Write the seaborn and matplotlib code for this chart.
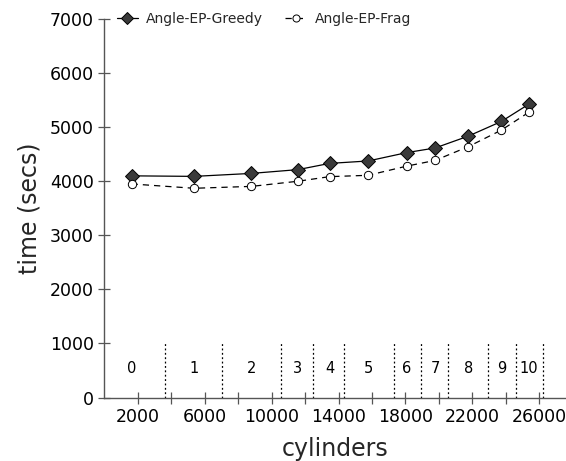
import matplotlib
matplotlib.use("Agg")
import matplotlib.pyplot as plt
import seaborn as sns
import pandas as pd

# data
cylinders = [1620, 5360, 8790, 11570, 13460, 15770, 18080, 19770, 21760, 23730, 25400]
greedy = [4100, 4090, 4145, 4215, 4330, 4375, 4530, 4615, 4835, 5105, 5430]
frag = [3950, 3870, 3905, 4000, 4085, 4110, 4280, 4385, 4640, 4945, 5280]
zone_labels = ["0", "1", "2", "3", "4", "5", "6", "7", "8", "9", "10"]
zone_bounds = [3610, 7000, 10540, 12450, 14320, 17300, 18940, 20550, 22910, 24590, 26240]
xtick_vals = list(range(2000, 26001, 2000))
ytick_vals = list(range(0, 7001, 1000))

sns.set_theme(style="white")
plt.rcParams['font.family'] = ['DejaVu Sans']

fig = plt.figure(figsize=(5.66, 4.61), dpi=100)
ax = fig.add_axes([0.1846, 0.1377, 0.8154, 0.821])

df = pd.DataFrame({"cyl": cylinders, "Angle-EP-Greedy": greedy, "Angle-EP-Frag": frag})

sns.lineplot(data=df, x="cyl", y="Angle-EP-Greedy", ax=ax, color="black", lw=0.9,
             marker="D", markersize=7, markerfacecolor="#3a3a3a", markeredgecolor="black",
             markeredgewidth=0.7, label="Angle-EP-Greedy")
sns.lineplot(data=df, x="cyl", y="Angle-EP-Frag", ax=ax, color="black", lw=0.9,
             linestyle=(0, (5, 4)), marker="o", markersize=6, markerfacecolor="white",
             markeredgecolor="black", markeredgewidth=0.7, label="Angle-EP-Frag")

ax.vlines(zone_bounds, 0, 1000, colors="black", linestyles=(0, (1.5, 2)), lw=0.9)
for x, lab in zip(cylinders, zone_labels):
    ax.text(x, 540, lab, ha="center", va="center", fontsize=10.5, color="black")

ax.set_xlim(0, 27600)
ax.set_ylim(0, 7000)
ax.set_xticks(xtick_vals)
ax.set_xticklabels([str(v) if (v - 2000) % 4000 == 0 else "" for v in xtick_vals])
ax.set_yticks(ytick_vals)
ax.tick_params(axis="both", direction="inout", length=9, width=0.9, color="#555555",
               labelsize=12.5, labelcolor="black", pad=3, bottom=True, left=True)

for s in ["top", "right"]:
    ax.spines[s].set_visible(False)
for s in ["left", "bottom"]:
    ax.spines[s].set_color("#555555")
    ax.spines[s].set_linewidth(1.0)

ax.set_xlabel("cylinders", fontsize=17, labelpad=8)
ax.set_ylabel("time (secs)", fontsize=17, labelpad=6)

leg = ax.legend(loc="center left", bbox_to_anchor=(0.0, 1.0), ncol=2, frameon=False,
                fontsize=10, handlelength=1.5, columnspacing=1.6, handletextpad=0.6,
                markerscale=0.85)

fig.savefig("out.png", dpi=100)
